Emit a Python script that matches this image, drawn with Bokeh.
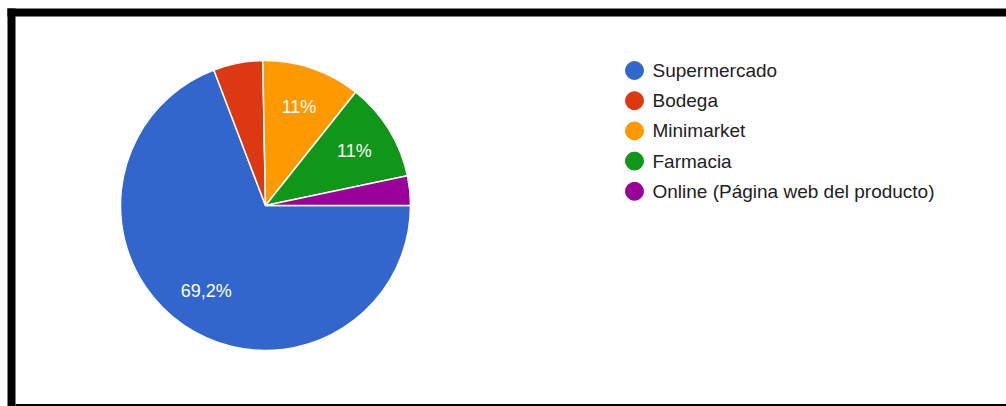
import math
from bokeh.plotting import figure
from bokeh.models import Range1d, ColumnDataSource
from bokeh.core.properties import value
from bokeh.embed import file_html
from bokeh.resources import INLINE

# ---- data ----
categories = ["Supermercado", "Bodega", "Minimarket", "Farmacia",
              "Online (Página web del producto)"]
percentages = [69.2, 5.5, 11.0, 11.0, 3.3]
colors = ["#3366cc", "#dc3912", "#ff9900", "#109618", "#990099"]

W, H = 1006, 406
FONT = "Liberation Sans"

p = figure(width=W, height=H, x_range=Range1d(0, W), y_range=Range1d(0, H),
           output_backend="svg", toolbar_location=None, min_border=0,
           x_axis_location=None, y_axis_location=None)
p.grid.visible = False
p.outline_line_color = None
p.background_fill_color = "white"
p.border_fill_color = "white"

def Y(ypix):
    return H - ypix

# ---- pie ----
cx, cy, r = 265, Y(205), 145
total = sum(percentages)
starts, ends, lx, ly, labels = [], [], [], [], []
cum = 0.0
for v in percentages:
    s = cum / total
    e = (cum + v) / total
    cum += v
    # clockwise from 3 o'clock
    starts.append(-2 * math.pi * e)
    ends.append(-2 * math.pi * s)
    mid = -math.pi * (s + e)
    lx.append(cx + 0.72 * r * math.cos(mid))
    ly.append(cy + 0.72 * r * math.sin(mid))
    labels.append((f"{v:g}".replace(".", ",") + "%") if v >= 10 else "")

src = ColumnDataSource(dict(cat=categories, start=starts, end=ends,
                            color=colors, lx=lx, ly=ly, label=labels))
p.wedge(x=cx, y=cy, radius=r, start_angle="start", end_angle="end",
        fill_color="color", line_color="white", line_width=1.5, source=src)
p.text(x="lx", y="ly", text="label", source=src, text_color="white",
       text_font=value(FONT), text_font_size="18px",
       text_align="center", text_baseline="middle")

# ---- legend ----
row0, step = 70, 30.2
leg_y = [Y(row0 + step * i) for i in range(len(categories))]
leg = ColumnDataSource(dict(y=leg_y, cat=categories, color=colors))
p.scatter(x=634, y="y", size=18, marker="circle", fill_color="color",
          line_color="color", source=leg)
p.text(x=652, y="y", text="cat", source=leg, text_color="#222222",
       text_font=value(FONT), text_font_size="19px",
       text_align="left", text_baseline="middle")

# ---- black frame ----
p.quad(left=[7, 7, 15], right=[15, W, W],
       top=[Y(8), Y(8), Y(403.5)], bottom=[Y(406), Y(16), Y(406)],
       fill_color="black", line_color=None)

open("out.html", "w").write(file_html(p, INLINE))
